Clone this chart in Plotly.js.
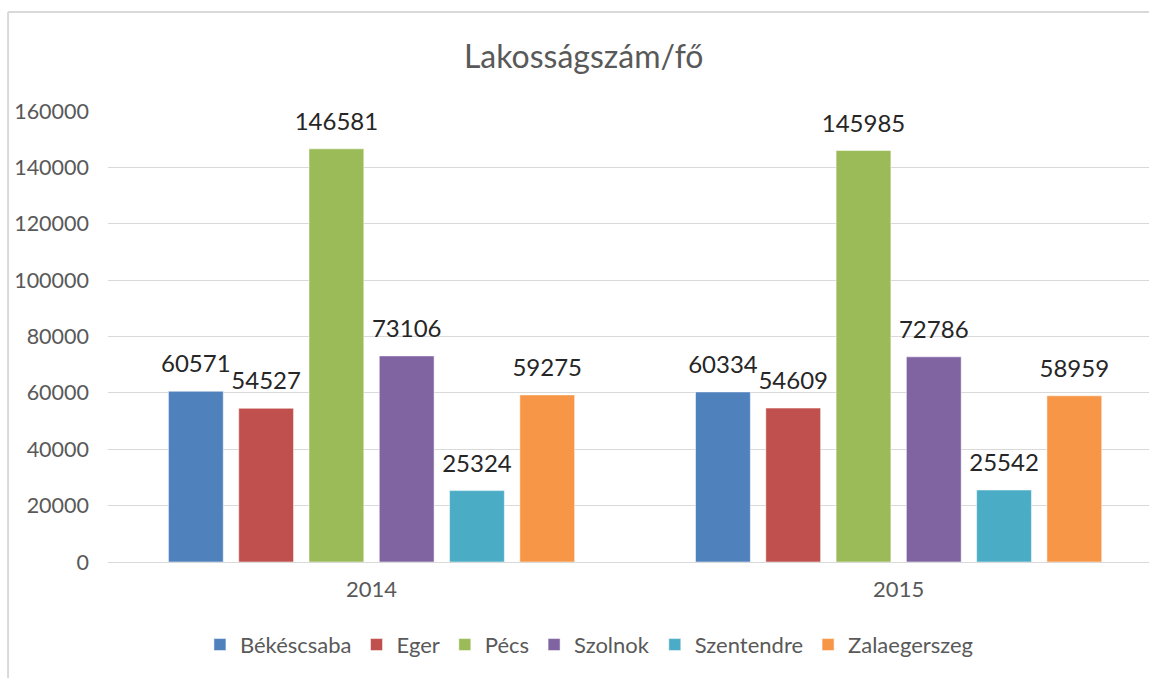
<!DOCTYPE html>
<html>
<head>
<meta charset="utf-8">
<script src="https://cdn.plot.ly/plotly-3.0.1.min.js"></script>
<style>
  html, body { margin: 0; padding: 0; background: #ffffff; }
  #chart { width: 1149px; height: 678px; }
</style>
</head>
<body>
<div id="chart"></div>
<script>
const years = ['2014', '2015'];
const cities = ['Békéscsaba', 'Eger', 'Pécs', 'Szolnok', 'Szentendre', 'Zalaegerszeg'];
const bekescsaba = [60571, 60334];
const eger = [54527, 54609];
const pecs = [146581, 145985];
const szolnok = [73106, 72786];
const szentendre = [25324, 25542];
const zalaegerszeg = [59275, 58959];
const seriesValues = [bekescsaba, eger, pecs, szolnok, szentendre, zalaegerszeg];
const colors = ['#4F81BD', '#C0504D', '#9BBB59', '#8064A2', '#4BACC6', '#F79646'];
const yTicks = [0, 20000, 40000, 60000, 80000, 100000, 120000, 140000, 160000];

const FONT = 'Lato, Carlito, "Open Sans", sans-serif';

const traces = [];
cities.forEach((name, i) => {
  traces.push({
    type: 'bar',
    name: name,
    x: years,
    y: seriesValues[i],
    offsetgroup: 'g' + i,
    marker: { color: colors[i], line: { color: 'rgba(255,255,255,0.5)', width: 1 } },
    hoverinfo: 'skip'
  });
});
cities.forEach((name, i) => {
  traces.push({
    type: 'scatter',
    mode: 'markers+text',
    name: name + ' label',
    x: years,
    y: seriesValues[i],
    offsetgroup: 'g' + i,
    text: seriesValues[i].map(v => String(v)),
    textposition: 'top center',
    textfont: { family: FONT, size: 24, color: '#262626' },
    marker: { size: 19, opacity: 0, color: colors[i] },
    showlegend: false,
    hoverinfo: 'skip',
    cliponaxis: false
  });
});

const layout = {
  width: 1149,
  height: 678,
  paper_bgcolor: '#ffffff',
  plot_bgcolor: '#ffffff',
  margin: { l: 108, r: 0, t: 111, b: 116, pad: 0 },
  font: { family: FONT, color: '#595959' },
  title: {
    text: 'Lakosságszám/fő',
    font: { family: FONT, size: 32, color: '#595959' },
    x: 0.508, xanchor: 'center', xref: 'container',
    y: 0.916, yanchor: 'middle', yref: 'container'
  },
  barmode: 'group',
  scattermode: 'group',
  bargap: 0.2,
  bargroupgap: 0.22,
  scattergap: 0.2,
  showlegend: true,
  legend: {
    orientation: 'h',
    xref: 'container', yref: 'container',
    x: 0.513, xanchor: 'center',
    y: 0.049, yanchor: 'middle',
    font: { family: FONT, size: 22, color: '#595959' },
    itemclick: false, itemdoubleclick: false,
    traceorder: 'normal'
  },
  xaxis: {
    type: 'category',
    range: [-0.5, 1.475],
    showgrid: false,
    zeroline: false,
    showline: false,
    ticks: '',
    tickfont: { family: FONT, size: 22, color: '#595959' },
    ticklabelstandoff: 12,
    fixedrange: true
  },
  yaxis: {
    range: [0, 160000],
    tickvals: yTicks,
    ticktext: yTicks.map(v => String(v)),
    showgrid: true,
    gridcolor: '#D9D9D9',
    gridwidth: 1,
    zeroline: true,
    zerolinecolor: '#D9D9D9',
    zerolinewidth: 1,
    showline: false,
    ticks: '',
    tickfont: { family: FONT, size: 21.5, color: '#595959' },
    ticklabelstandoff: 18,
    fixedrange: true
  },
  shapes: [
    { type: 'line', xref: 'paper', yref: 'paper', x0: -0.096, x1: 1.01, y0: 1.2195, y1: 1.2195,
      line: { color: '#D9D9D9', width: 2 } },
    { type: 'line', xref: 'paper', yref: 'paper', x0: -0.096, x1: -0.096, y0: 1.2195, y1: -0.3,
      line: { color: '#D9D9D9', width: 2 } }
  ]
};

Plotly.newPlot('chart', traces, layout, { displayModeBar: false, staticPlot: true });
</script>
</body>
</html>
